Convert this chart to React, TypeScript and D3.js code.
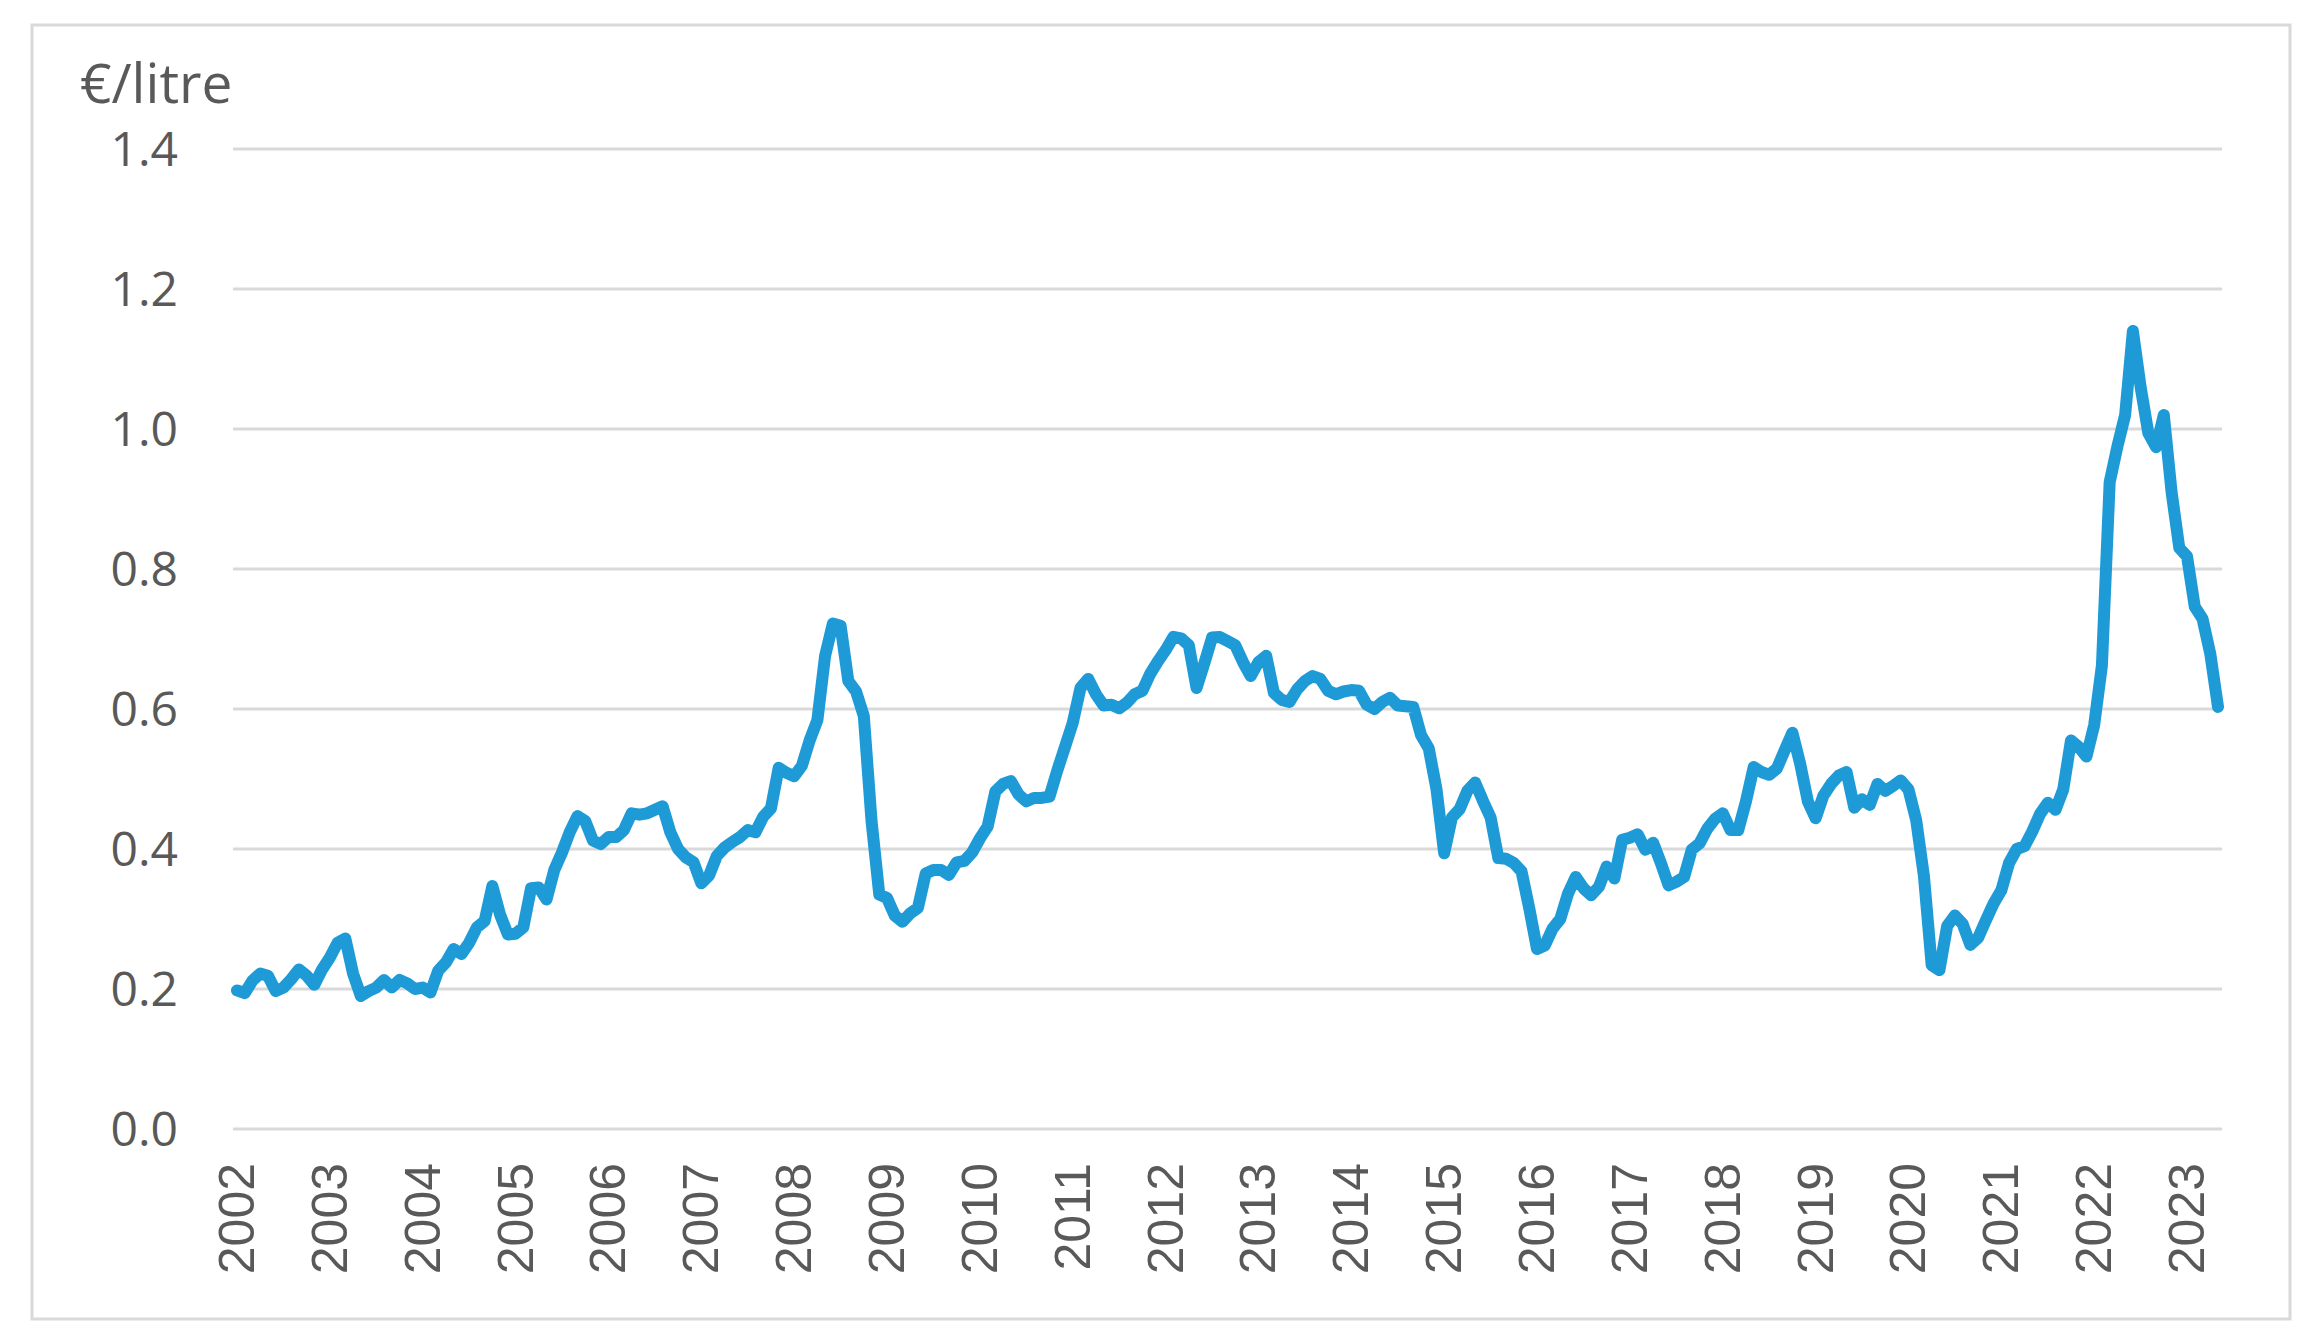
import React from "react";
import * as d3 from "d3";

// Monthly values, €/litre, January 2002 – May 2023
const v2002 = [0.198, 0.194, 0.212, 0.222, 0.219, 0.197, 0.202, 0.214, 0.228, 0.219, 0.206, 0.228];
const v2003 = [0.245, 0.266, 0.272, 0.222, 0.19, 0.197, 0.202, 0.213, 0.202, 0.213, 0.208, 0.2];
const v2004 = [0.202, 0.195, 0.226, 0.238, 0.257, 0.25, 0.266, 0.288, 0.297, 0.347, 0.306, 0.278];
const v2005 = [0.279, 0.288, 0.344, 0.345, 0.328, 0.37, 0.395, 0.424, 0.447, 0.44, 0.412, 0.407];
const v2006 = [0.417, 0.417, 0.427, 0.451, 0.449, 0.451, 0.456, 0.461, 0.424, 0.4, 0.388, 0.381];
const v2007 = [0.351, 0.362, 0.39, 0.402, 0.41, 0.417, 0.427, 0.424, 0.446, 0.458, 0.516, 0.509];
const v2008 = [0.504, 0.519, 0.555, 0.584, 0.676, 0.722, 0.719, 0.64, 0.625, 0.59, 0.44, 0.335];
const v2009 = [0.33, 0.305, 0.296, 0.308, 0.316, 0.365, 0.37, 0.37, 0.363, 0.381, 0.383, 0.395];
const v2010 = [0.415, 0.432, 0.482, 0.493, 0.497, 0.478, 0.468, 0.473, 0.473, 0.475, 0.512, 0.546];
const v2011 = [0.58, 0.63, 0.643, 0.621, 0.605, 0.606, 0.601, 0.609, 0.621, 0.626, 0.65, 0.668];
const v2012 = [0.684, 0.703, 0.701, 0.691, 0.63, 0.665, 0.702, 0.703, 0.697, 0.691, 0.667, 0.647];
const v2013 = [0.667, 0.676, 0.623, 0.613, 0.61, 0.628, 0.64, 0.647, 0.643, 0.626, 0.621, 0.625];
const v2014 = [0.627, 0.626, 0.606, 0.6, 0.61, 0.616, 0.605, 0.604, 0.603, 0.563, 0.544, 0.486];
const v2015 = [0.394, 0.445, 0.457, 0.483, 0.495, 0.469, 0.445, 0.387, 0.386, 0.38, 0.368, 0.315];
const v2016 = [0.257, 0.262, 0.286, 0.3, 0.336, 0.36, 0.344, 0.334, 0.346, 0.375, 0.358, 0.413];
const v2017 = [0.416, 0.421, 0.399, 0.409, 0.38, 0.348, 0.353, 0.36, 0.399, 0.408, 0.429, 0.443];
const v2018 = [0.451, 0.427, 0.427, 0.468, 0.517, 0.51, 0.506, 0.515, 0.541, 0.566, 0.522, 0.468];
const v2019 = [0.444, 0.476, 0.493, 0.505, 0.51, 0.459, 0.471, 0.463, 0.493, 0.483, 0.49, 0.498];
const v2020 = [0.485, 0.441, 0.361, 0.234, 0.227, 0.29, 0.305, 0.293, 0.263, 0.273, 0.298, 0.322];
const v2021 = [0.341, 0.38, 0.4, 0.404, 0.425, 0.45, 0.466, 0.456, 0.485, 0.555, 0.546, 0.532];
const v2022 = [0.577, 0.662, 0.924, 0.975, 1.02, 1.14, 1.06, 0.994, 0.974, 1.02, 0.91, 0.83];
const v2023 = [0.818, 0.746, 0.729, 0.679, 0.603];

const yearLabels = [
  "2002", "2003", "2004", "2005", "2006", "2007", "2008", "2009", "2010", "2011", "2012",
  "2013", "2014", "2015", "2016", "2017", "2018", "2019", "2020", "2021", "2022", "2023",
];
const yTicks = [0, 0.2, 0.4, 0.6, 0.8, 1.0, 1.2, 1.4];
const unitLabel = "€/litre";

const yearly = [
  v2002, v2003, v2004, v2005, v2006, v2007, v2008, v2009, v2010, v2011, v2012,
  v2013, v2014, v2015, v2016, v2017, v2018, v2019, v2020, v2021, v2022, v2023,
];

export default function App() {
  const W = 2308;
  const H = 1341;
  const series: number[] = yearly.flat();
  const n = series.length;

  const x = d3.scaleLinear().domain([0, n - 1]).range([237, 2218]);
  const y = d3.scaleLinear().domain([0, 1.4]).range([1129, 149]);
  const gridX0 = 233;
  const gridX1 = 2222;

  const line = d3
    .line<number>()
    .x((_, i) => x(i))
    .y((d) => y(d));

  const fmt = d3.format(".1f");
  const textColor = "#595959";

  return (
    <svg
      width={W}
      height={H}
      style={{ position: "absolute", left: 0, top: 0, background: "#fff" }}
    >
      <rect x={0} y={0} width={W} height={H} fill="#fff" />
      <rect
        x={32}
        y={25}
        width={2258}
        height={1294}
        fill="#fff"
        stroke="#d9d9d9"
        strokeWidth={3}
      />
      {yTicks.map((t) => (
        <line
          key={"g" + t}
          x1={gridX0}
          x2={gridX1}
          y1={y(t)}
          y2={y(t)}
          stroke="#d9d9d9"
          strokeWidth={3}
        />
      ))}
      {yTicks.map((t) => (
        <text
          key={"yl" + t}
          x={178}
          y={y(t) + 17}
          textAnchor="end"
          fontFamily="'Open Sans', 'Noto Sans', sans-serif"
          fontSize={48}
          fill={textColor}
        >
          {fmt(t)}
        </text>
      ))}
      <text
        x={80}
        y={103}
        fontFamily="'Open Sans', 'Noto Sans', sans-serif"
        fontSize={55}
        fill={textColor}
      >
        {unitLabel}
      </text>
      {yearLabels.map((lab, i) => (
        <text
          key={"xl" + lab}
          transform={`translate(${x(i * 12)},${1163}) rotate(-90)`}
          textAnchor="end"
          dominantBaseline="central"
          fontFamily="'Liberation Sans', Arial, sans-serif"
          fontSize={50}
          fill={textColor}
        >
          {lab}
        </text>
      ))}
      <path
        d={line(series) || ""}
        fill="none"
        stroke="#1e9bd7"
        strokeWidth={12}
        strokeLinejoin="round"
        strokeLinecap="round"
      />
    </svg>
  );
}
